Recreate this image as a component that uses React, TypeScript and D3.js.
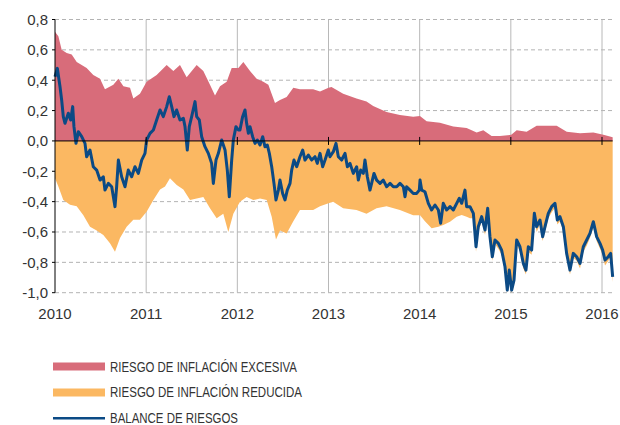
import React from "react";
import * as d3 from "d3";

// Decimal year, value
const excesiva: [number, number][] = [
  [2010.0, 0.72], [2010.037, 0.69], [2010.073, 0.6], [2010.128, 0.58], [2010.183, 0.57],
  [2010.238, 0.52], [2010.347, 0.48], [2010.42, 0.435], [2010.494, 0.41], [2010.548, 0.34],
  [2010.64, 0.37], [2010.695, 0.41], [2010.75, 0.36], [2010.823, 0.35], [2010.859, 0.28],
  [2010.932, 0.31], [2011.005, 0.39], [2011.115, 0.435], [2011.225, 0.5], [2011.298, 0.46],
  [2011.371, 0.5], [2011.444, 0.42], [2011.554, 0.5], [2011.627, 0.46], [2011.7, 0.37],
  [2011.755, 0.3], [2011.81, 0.36], [2011.883, 0.39], [2011.938, 0.48], [2012.011, 0.48],
  [2012.066, 0.52], [2012.139, 0.46], [2012.212, 0.41], [2012.285, 0.39], [2012.34, 0.37],
  [2012.413, 0.25], [2012.468, 0.27], [2012.541, 0.29], [2012.614, 0.35], [2012.687, 0.34],
  [2012.832, 0.34], [2012.907, 0.325], [2013.0, 0.35], [2013.033, 0.355], [2013.161, 0.31],
  [2013.307, 0.28], [2013.417, 0.26], [2013.49, 0.23], [2013.637, 0.19], [2013.783, 0.17],
  [2013.929, 0.16], [2014.003, 0.165], [2014.076, 0.13], [2014.222, 0.12], [2014.368, 0.095],
  [2014.515, 0.085], [2014.625, 0.055], [2014.698, 0.07], [2014.789, 0.033], [2014.881, 0.033],
  [2015.005, 0.04], [2015.064, 0.07], [2015.173, 0.06], [2015.283, 0.1], [2015.393, 0.1],
  [2015.503, 0.1], [2015.613, 0.06], [2015.759, 0.05], [2015.905, 0.055], [2016.015, 0.04],
  [2016.117, 0.024],
];

const reducida: [number, number][] = [
  [2010.0, -0.246], [2010.037, -0.3], [2010.091, -0.39], [2010.165, -0.42], [2010.238, -0.43],
  [2010.311, -0.49], [2010.384, -0.565], [2010.457, -0.59], [2010.53, -0.62], [2010.603, -0.675],
  [2010.658, -0.73], [2010.713, -0.64], [2010.786, -0.565], [2010.859, -0.52], [2010.932, -0.52],
  [2011.005, -0.466], [2011.079, -0.39], [2011.152, -0.32], [2011.207, -0.3], [2011.261, -0.246],
  [2011.335, -0.29], [2011.408, -0.32], [2011.481, -0.39], [2011.554, -0.38], [2011.627, -0.37],
  [2011.7, -0.444], [2011.773, -0.51], [2011.846, -0.48], [2011.901, -0.6], [2011.956, -0.48],
  [2012.029, -0.4], [2012.102, -0.37], [2012.175, -0.39], [2012.249, -0.38], [2012.322, -0.39],
  [2012.377, -0.5], [2012.424, -0.65], [2012.468, -0.59], [2012.541, -0.61], [2012.614, -0.53],
  [2012.687, -0.455], [2012.832, -0.455], [2012.907, -0.43], [2013.0, -0.41], [2013.051, -0.4],
  [2013.161, -0.444], [2013.307, -0.455], [2013.417, -0.48], [2013.527, -0.444], [2013.637, -0.43],
  [2013.783, -0.455], [2013.929, -0.49], [2014.004, -0.49], [2014.058, -0.53], [2014.131, -0.576],
  [2014.205, -0.565], [2014.259, -0.554], [2014.333, -0.532], [2014.406, -0.499], [2014.461, -0.488],
  [2014.515, -0.499], [2014.552, -0.51], [2014.589, -0.51], [2014.618, -0.73], [2014.643, -0.6],
  [2014.68, -0.53], [2014.717, -0.62], [2014.746, -0.48], [2014.771, -0.66], [2014.797, -0.79],
  [2014.826, -0.68], [2014.863, -0.71], [2014.899, -0.75], [2014.936, -0.86], [2014.961, -1.0],
  [2014.983, -0.88], [2015.009, -1.0], [2015.035, -0.95], [2015.064, -0.68], [2015.1, -0.73],
  [2015.137, -0.84], [2015.166, -0.88], [2015.192, -0.73], [2015.228, -0.75], [2015.258, -0.51],
  [2015.283, -0.6], [2015.32, -0.55], [2015.349, -0.66], [2015.375, -0.6], [2015.411, -0.51],
  [2015.448, -0.47], [2015.484, -0.44], [2015.51, -0.55], [2015.539, -0.53], [2015.576, -0.6],
  [2015.612, -0.77], [2015.649, -0.88], [2015.685, -0.77], [2015.722, -0.79], [2015.759, -0.84],
  [2015.795, -0.73], [2015.832, -0.69], [2015.868, -0.64], [2015.905, -0.57], [2015.941, -0.66],
  [2015.978, -0.71], [2016.007, -0.75], [2016.033, -0.82], [2016.069, -0.79], [2016.095, -0.77],
  [2016.117, -0.93],
];

const balance: [number, number][] = [
  [2010.0, 0.423], [2010.026, 0.478], [2010.055, 0.357], [2010.073, 0.27], [2010.091, 0.16],
  [2010.11, 0.116], [2010.146, 0.182], [2010.172, 0.138], [2010.194, 0.226], [2010.208, 0.094],
  [2010.23, -0.016], [2010.256, 0.061], [2010.293, 0.028], [2010.329, -0.016], [2010.347, -0.104],
  [2010.384, -0.06], [2010.42, -0.17], [2010.457, -0.192], [2010.494, -0.258], [2010.53, -0.236],
  [2010.548, -0.324], [2010.585, -0.28], [2010.622, -0.302], [2010.658, -0.433], [2010.676, -0.302],
  [2010.695, -0.126], [2010.731, -0.236], [2010.768, -0.302], [2010.804, -0.192], [2010.841, -0.236],
  [2010.877, -0.17], [2010.914, -0.214], [2010.951, -0.126], [2010.987, -0.082], [2011.005, 0.006],
  [2011.042, 0.05], [2011.079, 0.072], [2011.115, 0.138], [2011.152, 0.204], [2011.188, 0.16],
  [2011.225, 0.226], [2011.254, 0.291], [2011.28, 0.226], [2011.305, 0.16], [2011.334, 0.204],
  [2011.371, 0.138], [2011.408, 0.149], [2011.426, 0.094], [2011.451, -0.06], [2011.473, 0.094],
  [2011.499, 0.16], [2011.536, 0.259], [2011.554, 0.16], [2011.583, 0.138], [2011.609, 0.028],
  [2011.645, -0.038], [2011.682, -0.082], [2011.718, -0.148], [2011.737, -0.28], [2011.766, -0.126],
  [2011.792, -0.082], [2011.828, 0.006], [2011.865, -0.06], [2011.89, -0.192], [2011.912, -0.368],
  [2011.938, -0.126], [2011.956, 0.006], [2011.985, 0.094], [2012.011, 0.072], [2012.029, 0.072],
  [2012.058, 0.16], [2012.084, 0.204], [2012.102, 0.116], [2012.121, 0.05], [2012.139, 0.094],
  [2012.168, 0.028], [2012.194, -0.016], [2012.219, 0.006], [2012.249, -0.027], [2012.278, 0.028],
  [2012.303, -0.038], [2012.329, -0.027], [2012.351, -0.082], [2012.377, -0.17], [2012.402, -0.28],
  [2012.424, -0.389], [2012.45, -0.324], [2012.468, -0.258], [2012.497, -0.346], [2012.523, -0.389],
  [2012.548, -0.324], [2012.578, -0.28], [2012.596, -0.192], [2012.621, -0.126], [2012.651, -0.17],
  [2012.687, -0.104], [2012.717, -0.06], [2012.742, -0.126], [2012.779, -0.093], [2012.815, -0.126],
  [2012.852, -0.104], [2012.877, -0.148], [2012.907, -0.082], [2012.936, -0.17], [2012.962, -0.126],
  [2012.998, -0.06], [2013.016, -0.104], [2013.053, -0.071], [2013.082, -0.016], [2013.108, -0.104],
  [2013.144, -0.126], [2013.181, -0.082], [2013.207, -0.17], [2013.236, -0.148], [2013.272, -0.214],
  [2013.309, -0.17], [2013.327, -0.258], [2013.353, -0.192], [2013.382, -0.214], [2013.4, -0.126],
  [2013.426, -0.236], [2013.455, -0.324], [2013.473, -0.28], [2013.499, -0.214], [2013.528, -0.258],
  [2013.565, -0.28], [2013.601, -0.258], [2013.638, -0.302], [2013.675, -0.28], [2013.711, -0.302],
  [2013.748, -0.302], [2013.784, -0.28], [2013.821, -0.302], [2013.839, -0.368], [2013.857, -0.302],
  [2013.894, -0.324], [2013.93, -0.346], [2013.967, -0.346], [2013.996, -0.324], [2014.004, -0.258],
  [2014.022, -0.324], [2014.058, -0.335], [2014.095, -0.411], [2014.131, -0.455], [2014.168, -0.422],
  [2014.205, -0.455], [2014.23, -0.543], [2014.259, -0.411], [2014.296, -0.455], [2014.333, -0.433],
  [2014.369, -0.455], [2014.406, -0.411], [2014.435, -0.378], [2014.461, -0.411], [2014.497, -0.324],
  [2014.515, -0.433], [2014.552, -0.433], [2014.589, -0.477], [2014.618, -0.697], [2014.643, -0.565],
  [2014.68, -0.499], [2014.717, -0.587], [2014.746, -0.444], [2014.771, -0.631], [2014.797, -0.763],
  [2014.826, -0.653], [2014.863, -0.675], [2014.899, -0.719], [2014.936, -0.829], [2014.961, -0.983],
  [2014.983, -0.851], [2015.009, -0.983], [2015.035, -0.917], [2015.064, -0.653], [2015.1, -0.697],
  [2015.137, -0.807], [2015.166, -0.851], [2015.192, -0.697], [2015.228, -0.719], [2015.258, -0.477],
  [2015.283, -0.565], [2015.32, -0.521], [2015.349, -0.631], [2015.375, -0.565], [2015.411, -0.477],
  [2015.448, -0.433], [2015.484, -0.411], [2015.51, -0.521], [2015.539, -0.499], [2015.576, -0.565],
  [2015.612, -0.741], [2015.649, -0.851], [2015.685, -0.741], [2015.722, -0.763], [2015.759, -0.807],
  [2015.795, -0.697], [2015.832, -0.653], [2015.868, -0.609], [2015.905, -0.532], [2015.941, -0.631],
  [2015.978, -0.675], [2016.007, -0.719], [2016.033, -0.785], [2016.069, -0.763], [2016.095, -0.741],
  [2016.117, -0.895],
];

const yTicks = [0.8, 0.6, 0.4, 0.2, 0, -0.2, -0.4, -0.6, -0.8, -1.0];
const xTicks = [2010, 2011, 2012, 2013, 2014, 2015, 2016];
const legendLabels = [
  "RIESGO DE INFLACIÓN EXCESIVA",
  "RIESGO DE INFLACIÓN REDUCIDA",
  "BALANCE DE RIESGOS",
];

const RED = "#d86c7a";
const ORANGE = "#fbb862";
const BLUE = "#0b4a85";
const TEXT = "#333333";

export default function App() {
  const x = d3.scaleLinear().domain([2010, 2016]).range([55, 602]);
  const y = d3.scaleLinear().domain([-1, 0.8]).range([292.7, 19.5]);
  const xEnd = x(2016.117);

  const area = d3
    .area<[number, number]>()
    .x((d) => x(d[0]))
    .y0(() => y(0))
    .y1((d) => y(d[1]));
  const line = d3
    .line<[number, number]>()
    .x((d) => x(d[0]))
    .y((d) => y(d[1]));

  const fmt = (v: number) => v.toFixed(1).replace(".", ",");
  const font = "'Liberation Sans', Arial, Helvetica, sans-serif";

  return (
    <svg
      width={620}
      height={425}
      style={{ position: "absolute", left: 0, top: 0 }}
      fontFamily={font}
    >
      {yTicks
        .filter((t) => t !== 0)
        .map((t) => (
          <line
            key={"h" + t}
            x1={55}
            x2={xEnd}
            y1={y(t)}
            y2={y(t)}
            stroke="#b3b3b3"
            strokeWidth={1}
            strokeDasharray="4,3"
          />
        ))}
      {xTicks.slice(1).map((t) => (
        <line
          key={"v" + t}
          x1={x(t)}
          x2={x(t)}
          y1={y(0.8)}
          y2={y(-1)}
          stroke="#b8b8b8"
          strokeWidth={1}
        />
      ))}
      <path d={area(excesiva) || ""} fill={RED} />
      <path d={area(reducida) || ""} fill={ORANGE} />
      <path
        d={line(balance) || ""}
        fill="none"
        stroke={BLUE}
        strokeWidth={3}
        strokeLinejoin="round"
      />
      <line x1={55} x2={xEnd} y1={y(0)} y2={y(0)} stroke="#000" strokeWidth={1} />
      {xTicks.slice(1).map((t) => (
        <line
          key={"zt" + t}
          x1={x(t)}
          x2={x(t)}
          y1={y(0) - 4}
          y2={y(0) + 4}
          stroke="#000"
          strokeWidth={1}
        />
      ))}
      <line x1={55} x2={55} y1={y(0.8)} y2={y(-1)} stroke="#000" strokeWidth={1} />
      {yTicks.map((t) => (
        <g key={"yt" + t}>
          <line x1={52} x2={55} y1={y(t)} y2={y(t)} stroke="#000" strokeWidth={1} />
          <text
            x={48}
            y={y(t)}
            dy="0.36em"
            textAnchor="end"
            fontSize={15}
            fill={TEXT}
          >
            {fmt(t)}
          </text>
        </g>
      ))}
      {xTicks.map((t) => (
        <text
          key={"xt" + t}
          x={x(t)}
          y={319}
          textAnchor="middle"
          fontSize={15}
          fill={TEXT}
        >
          {t}
        </text>
      ))}
      <rect x={53} y={362.5} width={52} height={8} fill={RED} />
      <rect x={53} y={388.5} width={52} height={8} fill={ORANGE} />
      <rect x={53} y={417} width={52} height={2.5} fill={BLUE} />
      {legendLabels.map((l, i) => (
        <text
          key={l}
          x={110}
          y={[371.5, 397, 422.5][i]}
          fontSize={14}
          fill={TEXT}
          fontFamily="'Liberation Sans Narrow', 'Liberation Sans', Arial, sans-serif"
          textLength={[187, 192, 128][i]}
          lengthAdjust="spacingAndGlyphs"
        >
          {l}
        </text>
      ))}
    </svg>
  );
}
